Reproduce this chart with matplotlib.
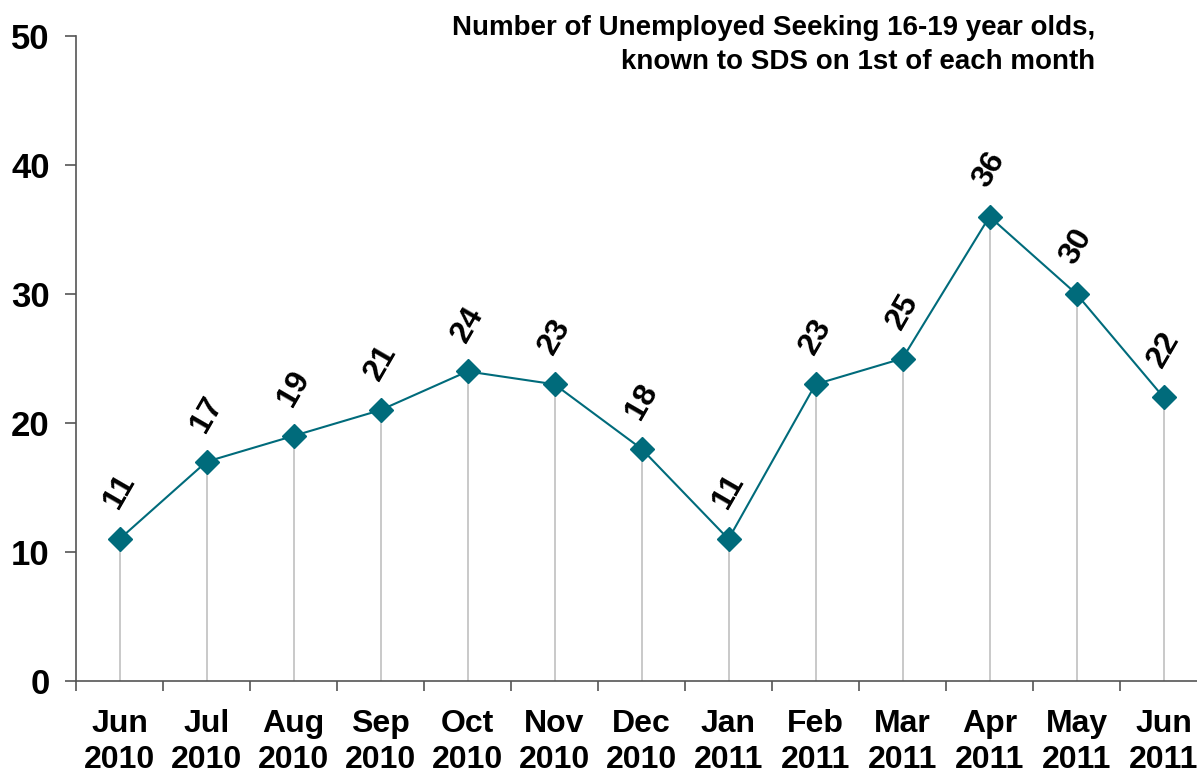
import numpy as np
import matplotlib.pyplot as plt

months = ['Jun\n2010', 'Jul\n2010', 'Aug\n2010', 'Sep\n2010', 'Oct\n2010', 'Nov\n2010',
          'Dec\n2010', 'Jan\n2011', 'Feb\n2011', 'Mar\n2011', 'Apr\n2011', 'May\n2011', 'Jun\n2011']
counts = [11, 17, 19, 21, 24, 23, 18, 11, 23, 25, 36, 30, 22]

plt.rcParams['font.family'] = ['Liberation Sans', 'DejaVu Sans']

fig = plt.figure(figsize=(11.97, 7.69), dpi=100)
ax = fig.add_axes([76 / 1197, 88 / 769, 1131 / 1197, 645 / 769])

x = np.arange(len(counts))
teal = '#006B7B'

# drop lines
ax.vlines(x, 0, counts, colors='#C0C0C0', linewidth=1.2, zorder=1)
ax.plot(x, counts, color=teal, linewidth=1.5, marker='D', markersize=12,
        markerfacecolor=teal, markeredgecolor=teal, zorder=3, clip_on=False)

for xi, v in zip(x, counts):
    ax.annotate(str(v), (xi, v), xytext=(0, 34), textcoords='offset points',
                rotation=60, ha='center', va='center', fontsize=23,
                fontweight='bold', rotation_mode='anchor')

ax.set_xlim(-0.5, len(counts) - 0.5)
ax.set_ylim(0, 50)
ax.set_yticks([0, 10, 20, 30, 40, 50])
ax.tick_params(axis='y', labelsize=25, length=8, width=1.2, color='#555555', pad=11)
for lbl in ax.get_yticklabels():
    lbl.set_fontweight('bold')

ax.set_xticks(np.arange(-0.5, len(counts), 1.0))
ax.set_xticklabels([])
ax.set_xticks(x, minor=True)
ax.set_xticklabels(months, minor=True, fontsize=23, fontweight='bold', linespacing=1.25)
ax.tick_params(axis='x', which='major', length=7, width=1.2, color='#555555')
ax.tick_params(axis='x', which='minor', length=0, pad=20)

for s in ['top', 'right']:
    ax.spines[s].set_visible(False)
for s in ['left', 'bottom']:
    ax.spines[s].set_color('#555555')
    ax.spines[s].set_linewidth(1.2)

fig.text(1095 / 1197, 1 - 28 / 769, 'Number of Unemployed Seeking 16-19 year olds,',
         ha='right', va='center', fontsize=20, fontweight='bold')
fig.text(1095 / 1197, 1 - 62 / 769, 'known to SDS on 1st of each month',
         ha='right', va='center', fontsize=20, fontweight='bold')

fig.savefig('out.png', dpi=100)
